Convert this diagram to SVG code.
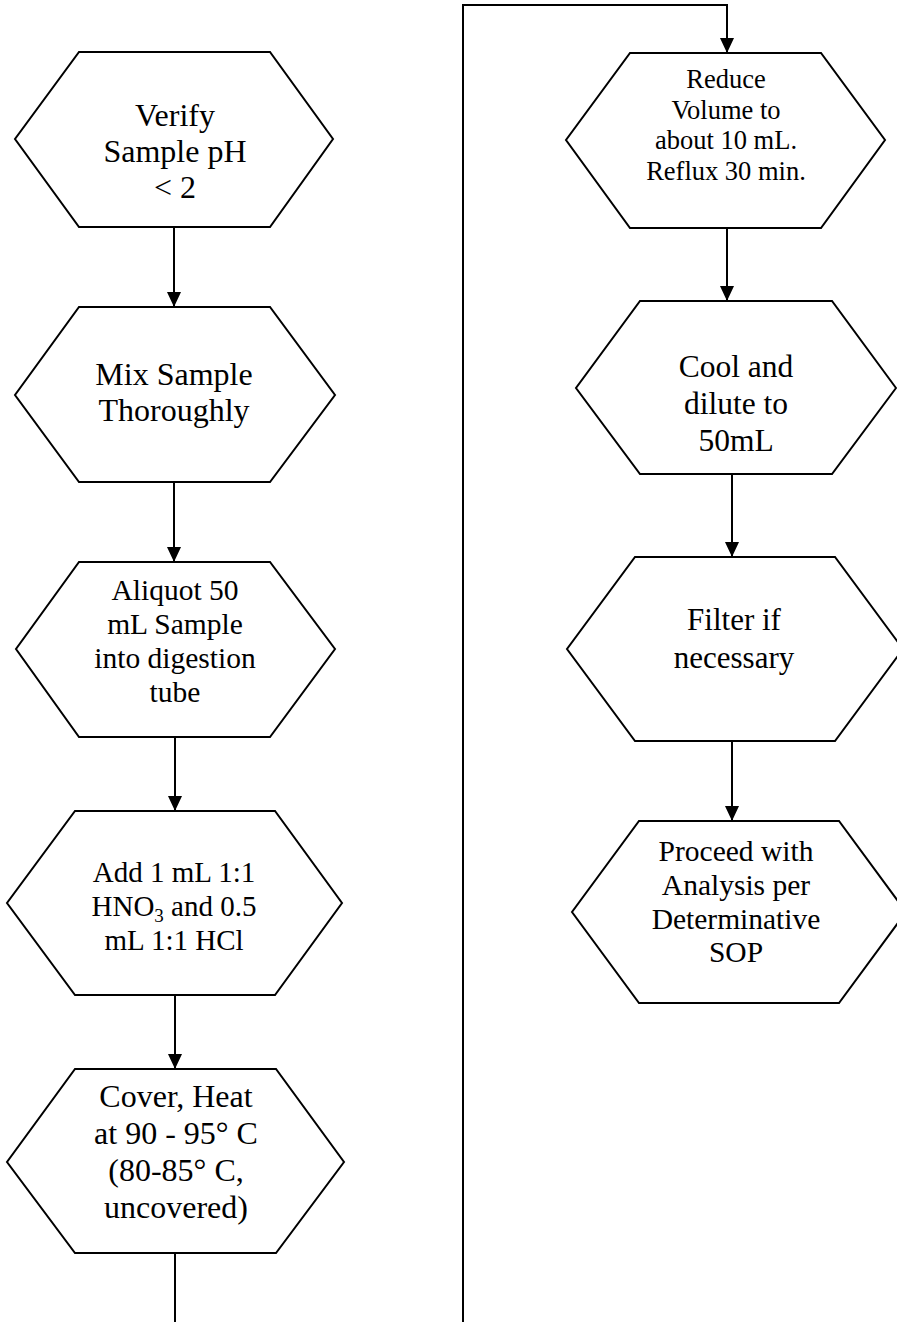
<svg xmlns="http://www.w3.org/2000/svg" width="897" height="1322" viewBox="0 0 897 1322">
<style>
.hex{fill:#ffffff;stroke:#000000;stroke-width:2;stroke-linejoin:miter}
.con{fill:none;stroke:#000000;stroke-width:2}
.t{font-family:"Liberation Serif","Times New Roman",serif;fill:#000000;text-anchor:middle}
</style>
<defs>
<marker id="arr" viewBox="0 0 15 14" refX="15" refY="7" markerWidth="15" markerHeight="14" markerUnits="userSpaceOnUse" orient="auto">
<path d="M0,0 L15,7 L0,14 Z" fill="#000000"/>
</marker>
</defs>
<rect x="0" y="0" width="897" height="1322" fill="#ffffff"/>
<g id="connectors">
<line class="con" x1="174" y1="227" x2="174" y2="307" marker-end="url(#arr)"/>
<line class="con" x1="174" y1="482" x2="174" y2="562" marker-end="url(#arr)"/>
<line class="con" x1="175" y1="737" x2="175" y2="811" marker-end="url(#arr)"/>
<line class="con" x1="175" y1="995" x2="175" y2="1069" marker-end="url(#arr)"/>
<line class="con" x1="175" y1="1253" x2="175" y2="1322"/>
<polyline class="con" points="463,1322 463,5 727,5 727,53" marker-end="url(#arr)"/>
<line class="con" x1="727" y1="228" x2="727" y2="301" marker-end="url(#arr)"/>
<line class="con" x1="732" y1="474" x2="732" y2="557" marker-end="url(#arr)"/>
<line class="con" x1="732" y1="741" x2="732" y2="821" marker-end="url(#arr)"/>
</g>
<g id="n1">
<polygon class="hex" points="79,52 270,52 333,139 270,227 79,227 15,139"/>
<text class="t" font-size="32"><tspan x="175" y="126">Verify</tspan><tspan x="175" y="162">Sample pH</tspan><tspan x="175" y="198">&lt; 2</tspan></text>
</g>
<g id="n2">
<polygon class="hex" points="79,307 270,307 335,395 270,482 79,482 15,395"/>
<text class="t" font-size="32"><tspan x="174" y="385">Mix Sample</tspan><tspan x="174" y="421">Thoroughly</tspan></text>
</g>
<g id="n3">
<polygon class="hex" points="79,562 270,562 335,649 270,737 79,737 16,649"/>
<text class="t" font-size="29.5"><tspan x="175" y="600">Aliquot 50</tspan><tspan x="175" y="634">mL Sample</tspan><tspan x="175" y="668">into digestion</tspan><tspan x="175" y="702">tube</tspan></text>
</g>
<g id="n4">
<polygon class="hex" points="75,811 275,811 342,903 275,995 75,995 7,903"/>
<text class="t" font-size="29"><tspan x="174" y="882">Add 1 mL 1:1</tspan><tspan x="174" y="916">HNO<tspan font-size="19" dy="6">3</tspan><tspan dy="-6"> and 0.5</tspan></tspan><tspan x="174" y="950">mL 1:1 HCl</tspan></text>
</g>
<g id="n5">
<polygon class="hex" points="75,1069 276,1069 344,1162 276,1253 75,1253 7,1162"/>
<text class="t" font-size="32"><tspan x="176" y="1107">Cover, Heat</tspan><tspan x="176" y="1144">at 90 - 95° C</tspan><tspan x="176" y="1181">(80-85° C,</tspan><tspan x="176" y="1218">uncovered)</tspan></text>
</g>
<g id="n6">
<polygon class="hex" points="630,53 821,53 885,140 821,228 630,228 566,140"/>
<text class="t" font-size="26.5"><tspan x="726" y="88">Reduce</tspan><tspan x="726" y="119">Volume to</tspan><tspan x="726" y="149">about 10 mL.</tspan><tspan x="726" y="180">Reflux 30 min.</tspan></text>
</g>
<g id="n7">
<polygon class="hex" points="640,301 832,301 896,388 832,474 640,474 576,388"/>
<text class="t" font-size="31.5"><tspan x="736" y="377">Cool and</tspan><tspan x="736" y="414">dilute to</tspan><tspan x="736" y="451">50mL</tspan></text>
</g>
<g id="n8">
<polygon class="hex" points="635,557 835,557 903,649 835,741 635,741 567,649"/>
<text class="t" font-size="31"><tspan x="734" y="630">Filter if</tspan><tspan x="734" y="668">necessary</tspan></text>
</g>
<g id="n9">
<polygon class="hex" points="639,821 839,821 906,912 839,1003 639,1003 572,912"/>
<text class="t" font-size="29.5"><tspan x="736" y="861">Proceed with</tspan><tspan x="736" y="895">Analysis per</tspan><tspan x="736" y="929">Determinative</tspan><tspan x="736" y="962">SOP</tspan></text>
</g>
</svg>
